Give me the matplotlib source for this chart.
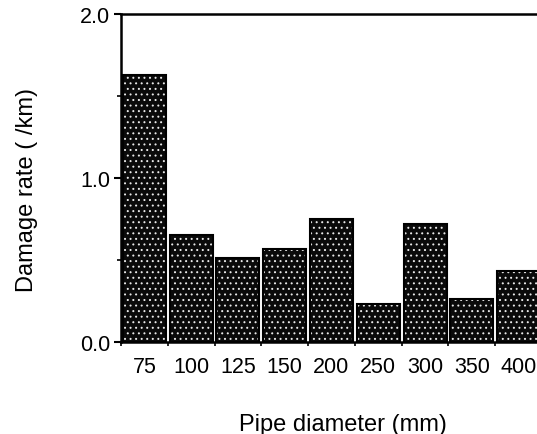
import numpy as np
import matplotlib.pyplot as plt
from matplotlib.ticker import MultipleLocator

plt.rcParams['font.family'] = ['Liberation Sans', 'DejaVu Sans']
plt.rcParams['hatch.linewidth'] = 0.7

diameters = ['75', '100', '125', '150', '200', '250', '300', '350', '400']
damage_rate = [1.63, 0.65, 0.51, 0.57, 0.75, 0.23, 0.72, 0.26, 0.43]

fig = plt.figure(figsize=(5.37, 4.35), dpi=100)
ax = fig.add_axes([121 / 537, (435 - 343) / 435, 421 / 537, 328 / 435])

x = np.arange(len(diameters))
# dark fill with white stipple, then black outline on top
ax.bar(x, damage_rate, width=0.92, color='#0a0a0a', edgecolor='#e8e8e8',
       hatch='...', linewidth=0, zorder=2)
ax.bar(x, damage_rate, width=0.92, color='none', edgecolor='black',
       linewidth=1.5, zorder=3)

ax.set_xlim(-0.5, len(diameters) - 0.5)
ax.set_ylim(0, 2.0)
ax.set_yticks([0, 1, 2])
ax.set_yticklabels(['0.0', '1.0', '2.0'])
ax.yaxis.set_minor_locator(MultipleLocator(0.5))
ax.set_xticks(x)
ax.set_xticklabels(diameters)
ax.set_xticks(np.arange(-0.5, len(diameters)), minor=True)

ax.tick_params(axis='x', which='major', length=0, pad=10, labelsize=15.5)
ax.tick_params(axis='x', which='minor', length=3, width=1.2, direction='out')
ax.tick_params(axis='y', which='major', length=5, width=1.5, pad=3, labelsize=15.5)
ax.tick_params(axis='y', which='minor', length=3, width=1.2)

ax.spines['right'].set_visible(False)
for s in ['left', 'top', 'bottom']:
    ax.spines[s].set_linewidth(1.8)

ax.set_xlabel('Pipe diameter (mm)', fontsize=17, labelpad=26, x=0.527)
ax.set_ylabel('Damage rate ( /km)', fontsize=17, labelpad=30, y=0.466)

fig.savefig('out.png', dpi=100)
